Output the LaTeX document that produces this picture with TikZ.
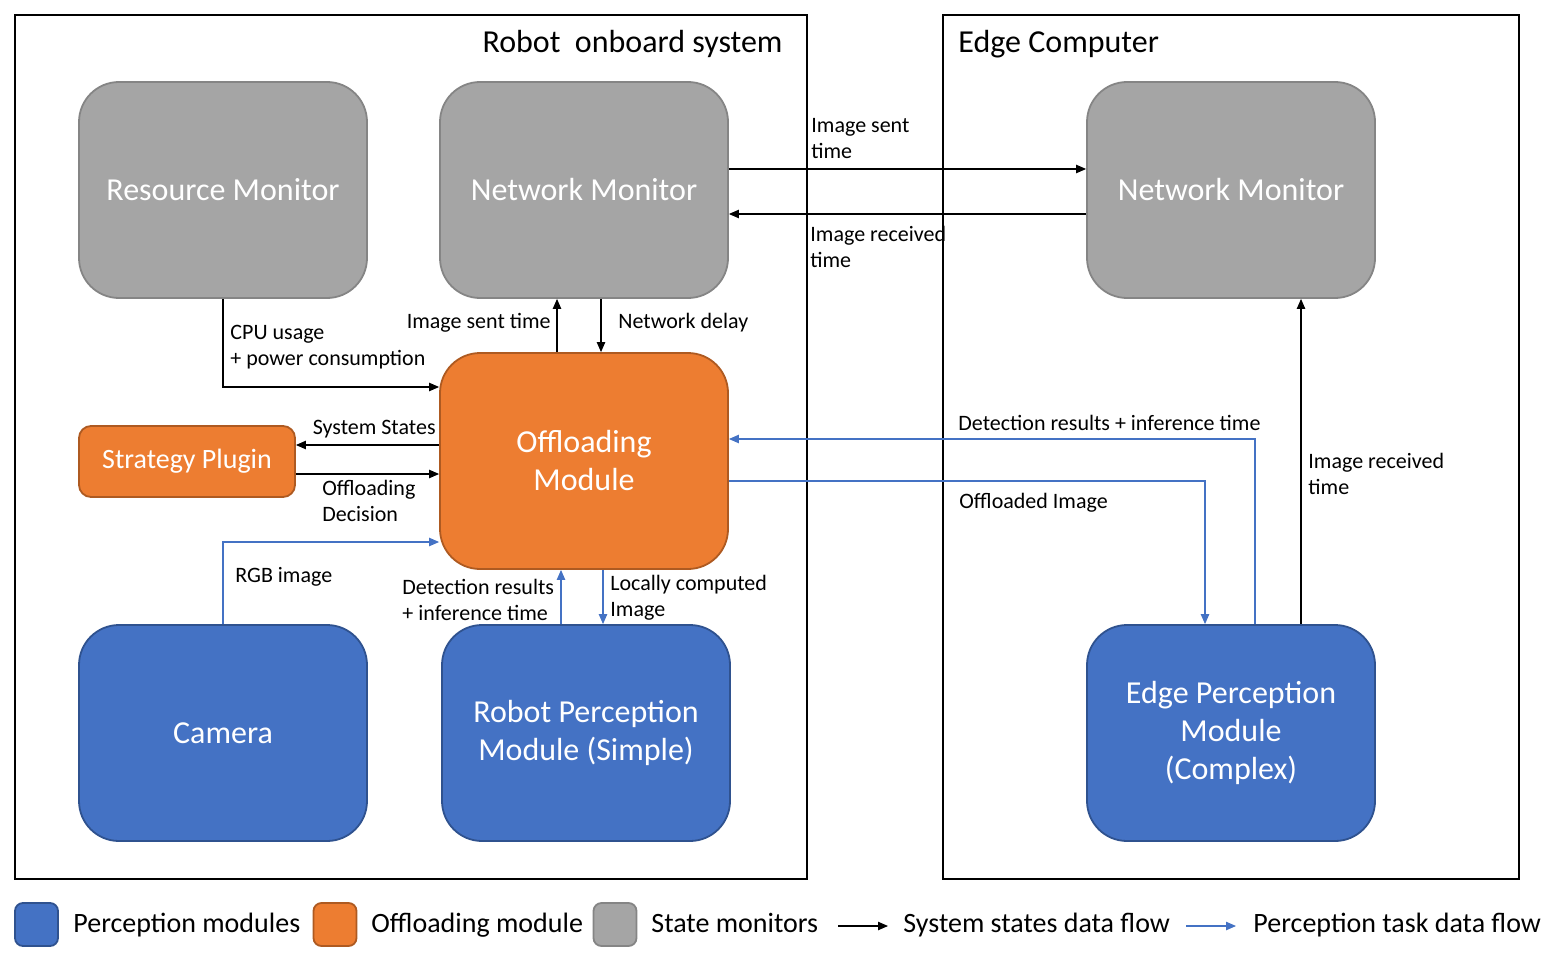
\documentclass[tikz,border=0pt]{standalone}
\usepackage{fontspec}
\setmainfont{Carlito}
\usetikzlibrary{arrows.meta}
\definecolor{gfill}{HTML}{A5A5A5}
\definecolor{gline}{HTML}{858585}
\definecolor{ofill}{HTML}{ED7D31}
\definecolor{oline}{HTML}{AE5A21}
\definecolor{bfill}{HTML}{4472C4}
\definecolor{bline}{HTML}{2F528F}
\begin{document}
\begin{tikzpicture}[x=0.5pt,y=-0.5pt,
  frame/.style={line width=1pt},
  box/.style={rounded corners=20pt, line width=0.9pt, text=white, font=\fontsize{16}{19}\selectfont, align=center, minimum width=144pt, minimum height=108pt, inner sep=0pt},
  gbox/.style={box, fill=gfill, draw=gline},
  obox/.style={box, fill=ofill, draw=oline},
  bbox/.style={box, fill=bfill, draw=bline},
  ar/.style={line width=0.55pt, -{Triangle[length=5pt,width=4.2pt]}},
  bar/.style={ar, draw=bfill, -{Triangle[length=5pt,width=4.2pt,fill=bfill]}},
  lab/.style={font=\fontsize{11}{13}\selectfont, align=left, inner sep=0pt},
  ttl/.style={font=\fontsize{16}{19}\selectfont, inner sep=0pt},
  leg/.style={font=\fontsize{14}{17}\selectfont, inner sep=0pt, anchor=west, text height=10pt, text depth=3pt},
  sq/.style={rounded corners=4pt, line width=0.9pt, minimum width=21.5pt, minimum height=21.5pt, inner sep=0pt}
]
\useasboundingbox (0,0) rectangle (1550,957);
% frames
\draw[frame] (15,15) rectangle (807,879);
\draw[frame] (943,15) rectangle (1519,879);
\node[ttl, anchor=east] (t1) at (783,44) {Robot~ onboard system};
\node[ttl, anchor=west] (t2) at (958,44) {Edge Computer};
% boxes
\node[gbox] (rm) at (223,190) {Resource Monitor};
\node[gbox] (nm) at (584,190) {Network Monitor};
\node[gbox] (enm) at (1231,190) {Network Monitor};
\node[obox] (om) at (584,461) {Offloading\\Module};
\node[obox, rounded corners=6pt, minimum width=108pt, minimum height=35.5pt, font=\fontsize{14}{17}\selectfont] (sp) at (187,461.5) {Strategy Plugin};
\node[bbox] (cam) at (223,733) {Camera};
\node[bbox] (rpm) at (586,733) {Robot Perception\\Module (Simple)};
\node[bbox] (epm) at (1231,733) {Edge Perception\\Module\\(Complex)};
% connectors
\draw[ar] ([yshift=10.5pt]nm.east) -- ([yshift=10.5pt]enm.west);
\draw[ar] ([yshift=-12pt]enm.west) -- ([yshift=-12pt]nm.east);
\draw[ar] (rm.south) |- ([yshift=37pt]om.west);
\draw[ar] ([xshift=-13.5pt]om.north) -- ([xshift=-13.5pt]nm.south);
\draw[ar] ([xshift=8.5pt]nm.south) -- ([xshift=8.5pt]om.north);
\draw[ar] ([yshift=8pt]om.west) -- ([yshift=8pt]om.west -| sp.east);
\draw[ar] ([yshift=-6.5pt]om.west -| sp.east) -- ([yshift=-6.5pt]om.west);
\draw[bar] (cam.north) |- ([yshift=-40.5pt]om.west);
\draw[bar] ([xshift=-12.5pt]rpm.north) -- ([xshift=-12.5pt]rpm.north |- om.south);
\draw[bar] ([xshift=8.5pt]rpm.north |- om.south) -- ([xshift=8.5pt]rpm.north);
\draw[bar] ([xshift=12pt]epm.north) |- ([yshift=11pt]om.east);
\draw[bar] ([yshift=-10pt]om.east) -| ([xshift=-13pt]epm.north);
\draw[ar] ([xshift=35pt]epm.north) -- ([xshift=35pt]enm.south);
% labels
\node[lab, anchor=west] (l1) at (811,139) {Image sent\\time};
\node[lab, anchor=west] (l2) at (810,247) {Image received\\time};
\node[lab, anchor=west] (l3) at (230,347) {CPU usage\\+ power consumption};
\node[lab, anchor=east] (l4) at (551,323) {Image sent time};
\node[lab, anchor=west] (l5) at (618,323) {Network delay};
\node[lab, anchor=east] (l6) at (436,429) {System States};
\node[lab, anchor=west] (l7) at (322,501) {Offloading\\Decision};
\node[lab, anchor=west] (l8) at (235,577) {RGB image};
\node[lab, anchor=west] (l9) at (402,600) {Detection results\\+ inference time};
\node[lab, anchor=west] (l10) at (610,598) {Locally computed\\Image};
\node[lab, anchor=west] (l11) at (958,423) {Detection results + inference time};
\node[lab, anchor=west] (l12) at (959,503) {Offloaded Image};
\node[lab, anchor=west] (l13) at (1308,474) {Image received\\time};
% legend
\node[sq, fill=bfill, draw=bline] (s1) at (36.5,924.5) {};
\node[leg] (g1) at (73,925) {Perception modules};
\node[sq, fill=ofill, draw=oline] (s2) at (335,924.5) {};
\node[leg] (g2) at (371,925) {Offloading module};
\node[sq, fill=gfill, draw=gline] (s3) at (615,924.5) {};
\node[leg] (g3) at (651,925) {State monitors};
\coordinate (a1) at (838,926);
\coordinate (a2) at (888,926);
\draw[ar] (a1) -- (a2);
\node[leg] (g4) at (903,925) {System states data flow};
\coordinate (b1) at (1186,926);
\coordinate (b2) at (1236,926);
\draw[bar] (b1) -- (b2);
\node[leg] (g5) at (1253,925) {Perception task data flow};
\end{tikzpicture}
\end{document}
